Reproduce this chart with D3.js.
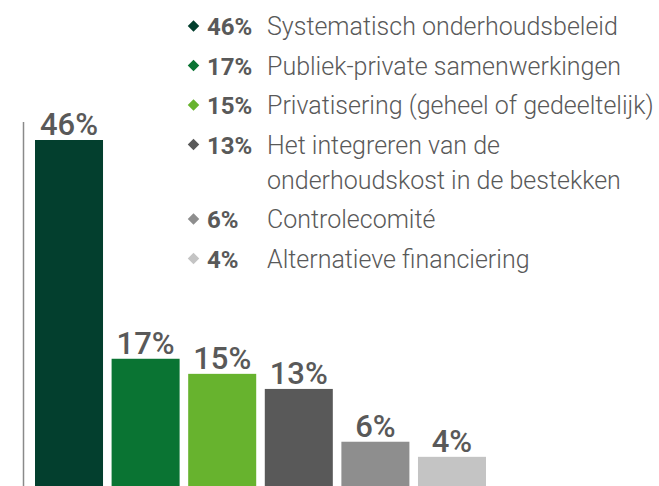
<!DOCTYPE html>
<html><head><meta charset="utf-8">
<script src="https://cdn.jsdelivr.net/npm/d3@7"></script>
<style>html,body{margin:0;padding:0;background:#fff;overflow:hidden}</style>
</head><body>
<script>
const categories = ["Systematisch onderhoudsbeleid","Publiek-private samenwerkingen","Privatisering (geheel of gedeeltelijk)","Het integreren van de|onderhoudskost in de bestekken","Controlecomité","Alternatieve financiering"];
const values = [46, 17, 15, 13, 6, 4];
const colors = ["#033f2e","#0a7433","#67b32e","#595959","#8e8e8e","#c4c4c4"];

const W = 659, H = 486;
const svg = d3.select("body").append("svg").attr("width", W).attr("height", H);

const x = d3.scaleBand().domain(d3.range(values.length)).range([35, 486]).paddingInner(0.112).paddingOuter(0);
const y = d3.scaleLinear().domain([0, 46]).range([487, 140]);

// axis line
svg.append("line").attr("x1", 23.5).attr("x2", 23.5).attr("y1", 122).attr("y2", H)
  .attr("stroke", "#8a8a8a").attr("stroke-width", 1.5);

svg.selectAll("rect.bar").data(values).join("rect").attr("class","bar")
  .attr("x", (d,i) => x(i)).attr("width", x.bandwidth())
  .attr("y", d => y(d)).attr("height", d => y(0) - y(d))
  .attr("fill", (d,i) => colors[i]);

svg.selectAll("text.val").data(values).join("text").attr("class","val")
  .attr("x", (d,i) => x(i) + x.bandwidth()/2).attr("y", d => y(d) - 5)
  .attr("text-anchor","middle")
  .attr("font-family","Roboto").attr("font-weight",500).attr("font-size",31)
  .attr("fill","#595959").text(d => d + "%");

// legend
const rowH = 39.5, wrapH = 35;
let by = 35;
categories.forEach((c, i) => {
  const parts = c.split("|");
  const g = svg.append("g");
  g.append("path").attr("d", d3.symbol().type(d3.symbolDiamond2).size(85)())
    .attr("transform", `translate(193.5,${by - 9})`).attr("fill", colors[i]);
  g.append("text").attr("x", 207).attr("y", by)
    .attr("font-family","Roboto").attr("font-weight",700).attr("font-size",24)
    .attr("fill","#595959").text(values[i] + "%");
  parts.forEach((p, k) => {
    g.append("text").attr("x", 267).attr("y", by + k * wrapH)
      .attr("font-family","Roboto").attr("font-weight",300).attr("font-size",25)
      .attr("fill","#595959").text(p);
  });
  by += rowH + (parts.length - 1) * wrapH;
});
</script>
</body></html>
